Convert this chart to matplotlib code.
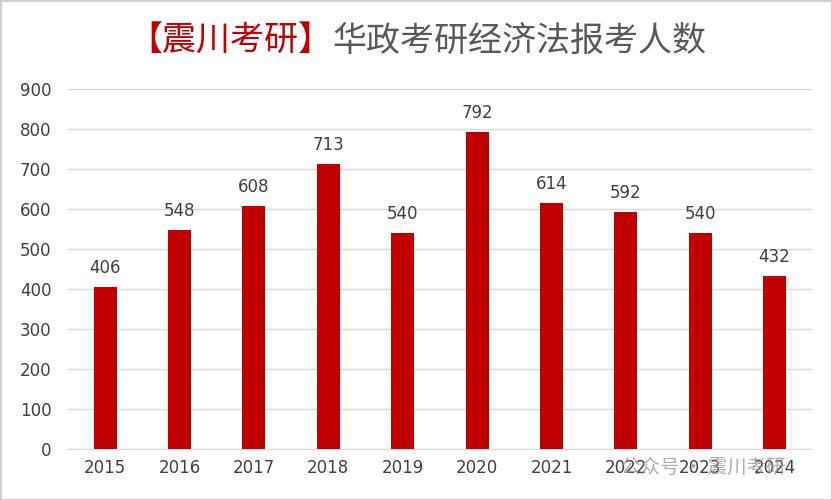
import matplotlib.pyplot as plt
import numpy as np

plt.rcParams['font.family'] = ['DejaVu Sans', 'Noto Sans CJK SC']

years = ['2015', '2016', '2017', '2018', '2019', '2020', '2021', '2022', '2023', '2024']
counts = [406, 548, 608, 713, 540, 792, 614, 592, 540, 432]

fig = plt.figure(figsize=(8.32, 5), dpi=100)
fig.patch.set_edgecolor('#d0d0d0')
fig.patch.set_linewidth(2)
ax = fig.add_axes([0.0817, 0.102, 0.894, 0.72])

x = np.arange(len(years))
ax.bar(x, counts, width=0.31, color='#c00000', zorder=3)
for xi, v in zip(x, counts):
    ax.text(xi, v + 25, str(v), ha='center', va='bottom', fontsize=12, color='#404040')

ax.set_xlim(-0.5, len(years) - 0.5)
ax.set_ylim(0, 900)
ax.set_yticks(range(0, 901, 100))
ax.set_xticks(x)
ax.set_xticklabels(years)
ax.grid(axis='y', color='#d9d9d9', linewidth=1, zorder=0)
for s in ['top', 'right', 'left']:
    ax.spines[s].set_visible(False)
ax.spines['bottom'].set_color('#d9d9d9')
ax.tick_params(axis='both', length=0, labelsize=12, colors='#404040')
ax.tick_params(axis='y', pad=12)
ax.tick_params(axis='x', pad=7)

# title in two colours, second part placed right after the first
t1 = fig.text(128 / 832, 0.918, '【震川考研】', color='#c00000', fontsize=24.5,
              family=['Noto Sans CJK SC'], ha='left', va='center')
fig.canvas.draw()
bb = t1.get_window_extent()
fig.text(bb.x1 / fig.bbox.width, 0.918, '华政考研经济法报考人数', color='#595959', fontsize=24.5,
         family=['Noto Sans CJK SC'], ha='left', va='center')

fig.text(0.845, 0.066, '公众号 · 震川考研', color='#999999', alpha=0.8, fontsize=14,
         family=['Noto Sans CJK SC'], ha='center', va='center')

fig.savefig('out.png', dpi=100, edgecolor=fig.get_edgecolor())
